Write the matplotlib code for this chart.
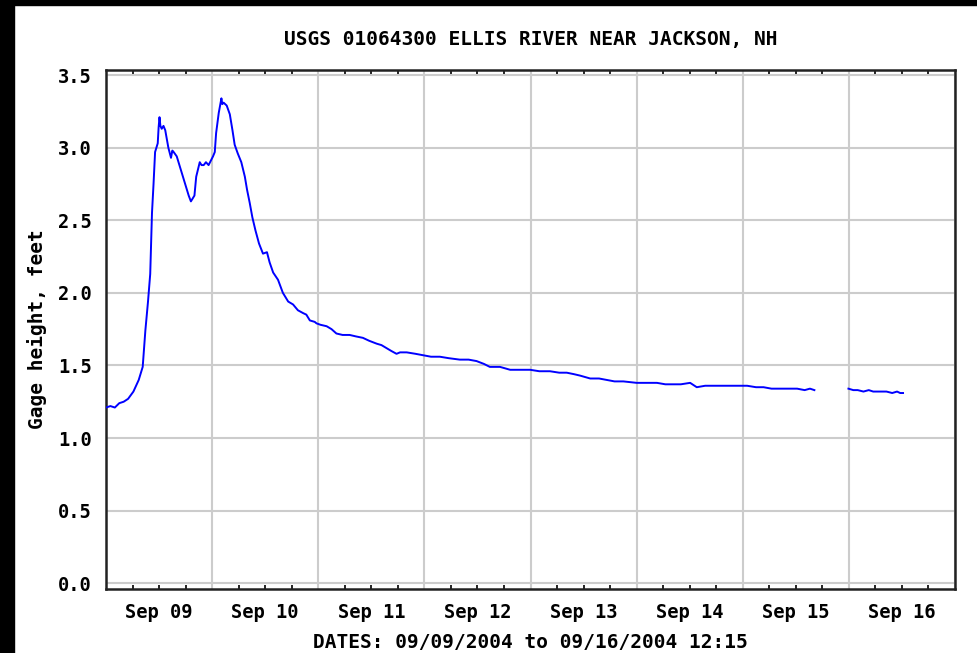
import matplotlib
matplotlib.use("Agg")
import matplotlib.pyplot as plt
import matplotlib.dates as mdates
from matplotlib.ticker import FuncFormatter, MultipleLocator
from matplotlib.patches import Rectangle
import numpy as np
import pandas as pd

title = "USGS 01064300 ELLIS RIVER NEAR JACKSON, NH"
ylabel = "Gage height, feet"
xlabel = "DATES: 09/09/2004 to 09/16/2004 12:15"
start = "2004-09-09 00:00"

# segment 1: hours since Sep 09 00:00 and gage height (ft)
hours1 = [0.0, 1.0, 2.0, 3.0, 4.0, 5.0, 6.2, 7.4, 8.3, 8.9, 9.5, 10.0, 10.4, 10.75,
          11.1, 11.7, 11.9, 12.1, 12.3, 12.6, 13.0, 13.4, 14.1, 14.7, 15.0, 15.3, 16.0,
          16.9, 17.9, 18.7, 19.2, 19.6, 20.0, 20.4, 21.2, 21.6, 22.1, 22.6, 23.2,
          24.2, 24.6, 24.9, 25.5, 26.1, 26.3, 26.6, 27.3, 28.0, 28.6, 29.1, 29.8,
          30.6, 31.4, 31.9, 32.5, 33.1, 33.8, 34.6, 35.5, 36.4, 37.0, 37.8, 38.9,
          40.0, 41.2, 42.3, 43.4, 44.6, 45.3, 46.1, 47.2, 47.6, 48.5, 49.9, 51.0,
          52.1, 53.5, 55.1, 56.5, 58.1, 59.5, 61.2, 62.3, 63.4, 64.5, 65.7, 66.5,
          68.0, 70.0, 71.7, 73.5, 75.5, 77.5, 80.0, 82.0, 83.8, 85.5, 86.8, 89.1,
          91.4, 93.5, 95.9, 98.0, 100.4, 102.5, 104.2, 105.8, 107.2, 109.5, 111.5,
          113.2, 115.0, 117.0, 120.0, 122.5, 124.6, 126.5, 128.3, 130.0, 132.1,
          133.6, 135.5, 137.4, 139.5, 141.2, 143.0, 145.0, 147.0, 148.7, 150.5,
          152.5, 154.5, 156.3, 158.0, 159.2, 160.2]
height1 = [1.21, 1.22, 1.21, 1.24, 1.25, 1.27, 1.32, 1.40, 1.49, 1.74, 1.94, 2.13, 2.55, 2.75,
           2.97, 3.03, 3.14, 3.21, 3.15, 3.13, 3.15, 3.12, 3.00, 2.93, 2.98, 2.97, 2.94,
           2.85, 2.75, 2.67, 2.63, 2.65, 2.67, 2.80, 2.90, 2.88, 2.88, 2.90, 2.88,
           2.94, 2.97, 3.10, 3.24, 3.34, 3.30, 3.31, 3.29, 3.23, 3.12, 3.02, 2.96,
           2.90, 2.80, 2.71, 2.62, 2.52, 2.43, 2.34, 2.27, 2.28, 2.21, 2.14, 2.09,
           2.00, 1.94, 1.92, 1.88, 1.86, 1.85, 1.81, 1.80, 1.79, 1.78, 1.77, 1.75,
           1.72, 1.71, 1.71, 1.70, 1.69, 1.67, 1.65, 1.64, 1.62, 1.60, 1.58, 1.59,
           1.59, 1.58, 1.57, 1.56, 1.56, 1.55, 1.54, 1.54, 1.53, 1.51, 1.49, 1.49,
           1.47, 1.47, 1.47, 1.46, 1.46, 1.45, 1.45, 1.44, 1.43, 1.41, 1.41,
           1.40, 1.39, 1.39, 1.38, 1.38, 1.38, 1.37, 1.37, 1.37, 1.38,
           1.35, 1.36, 1.36, 1.36, 1.36, 1.36, 1.36, 1.35, 1.35, 1.34,
           1.34, 1.34, 1.34, 1.33, 1.34, 1.33]

# segment 2 (after data gap)
hours2 = [167.9, 169.0, 170.0, 171.3, 172.5, 173.5, 175.1, 176.5, 177.8, 178.9, 179.6, 180.25]
height2 = [1.34, 1.33, 1.33, 1.32, 1.33, 1.32, 1.32, 1.32, 1.31, 1.32, 1.31, 1.31]

t0 = pd.Timestamp(start)
t1 = t0 + pd.to_timedelta(hours1, unit="h")
t2 = t0 + pd.to_timedelta(hours2, unit="h")

W, H = 977, 653
fig = plt.figure(figsize=(W / 100, H / 100), dpi=100)
fig.patch.set_facecolor("white")
# black frame strips
fig.patches.append(Rectangle((0, 0), 14 / W, 1, transform=fig.transFigure, color="black", zorder=0))
fig.patches.append(Rectangle((0, 1 - 5 / H), 1, 5 / H, transform=fig.transFigure, color="black", zorder=0))

ax = fig.add_axes([106 / W, (H - 589) / H, (955 - 106) / W, (589 - 70) / H])

ax.plot(t1, height1, color="#0000ff", lw=1.4, zorder=3)
ax.plot(t2, height2, color="#0000ff", lw=1.4, zorder=3)

ax.set_xlim(t0, t0 + pd.Timedelta(days=8))
ax.set_ylim(-0.04, 3.535)

font = dict(family="DejaVu Sans Mono", weight="bold", size=14)

ax.yaxis.set_major_locator(MultipleLocator(0.5))
ax.yaxis.set_major_formatter(FuncFormatter(lambda v, p: f"{v:.1f}"))
ax.tick_params(axis="y", length=0, pad=10, labelsize=13.5)

ax.xaxis.set_major_locator(mdates.DayLocator())
ax.xaxis.set_major_formatter(FuncFormatter(lambda v, p: ""))
ax.xaxis.set_minor_locator(mdates.HourLocator(byhour=[6, 12, 18]))

def minor_fmt(v, p):
    d = mdates.num2date(v)
    return d.strftime("Sep %d") if d.hour == 12 else ""

ax.xaxis.set_minor_formatter(FuncFormatter(minor_fmt))
ax.tick_params(axis="x", which="major", length=0)
ax.tick_params(axis="x", which="minor", direction="in", length=3, width=1.2,
               top=True, bottom=True, pad=10, labelsize=13.5)

for lab in ax.get_xticklabels(which="both") + ax.get_yticklabels():
    lab.set_fontfamily("DejaVu Sans Mono")
    lab.set_fontweight("bold")

ax.grid(True, which="major", color="#cccccc", lw=1.5, zorder=0)
for s in ax.spines.values():
    s.set_color("#222222")
    s.set_linewidth(1.8)

ax.set_title(title, fontdict=font, pad=18)
ax.set_ylabel(ylabel, fontdict=font, labelpad=8)
ax.set_xlabel(xlabel, fontdict=font, labelpad=8)

fig.savefig("out.png", dpi=100)
